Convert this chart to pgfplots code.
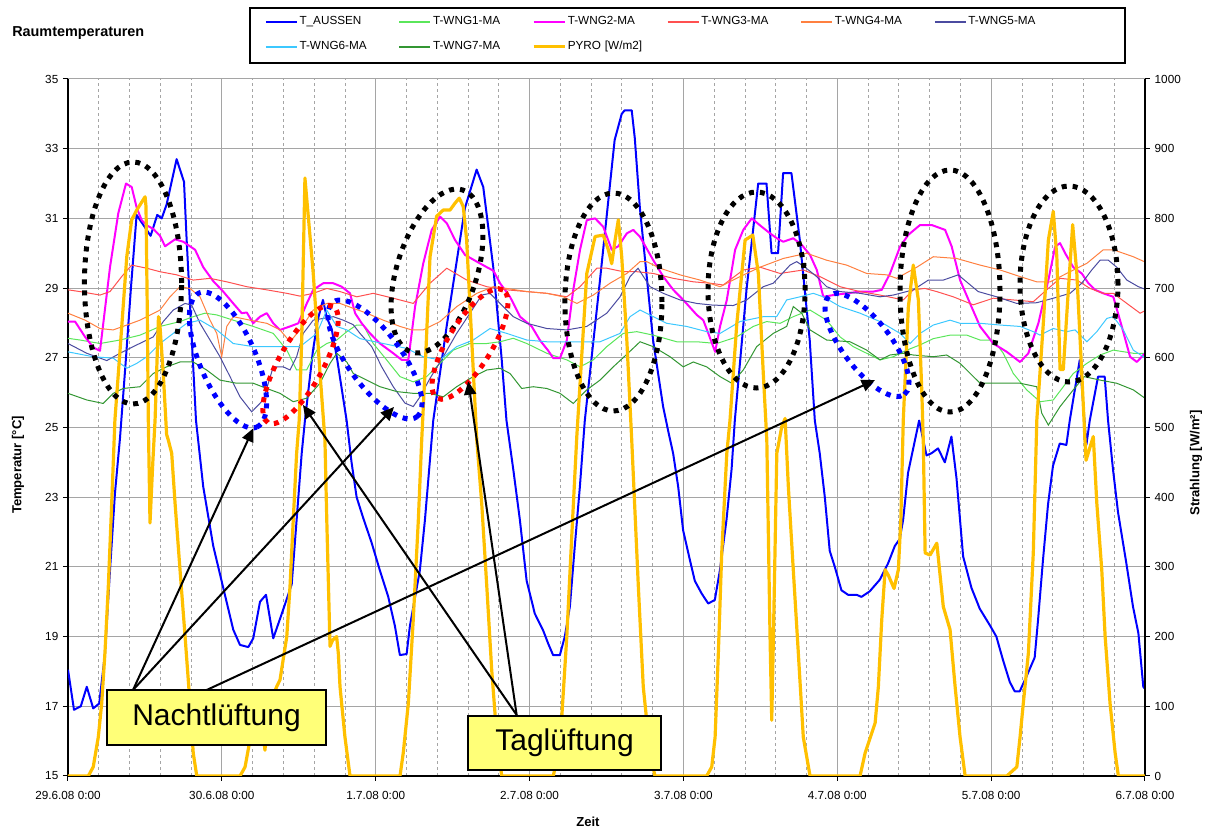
\documentclass[border=0pt]{standalone}
\usepackage{fontspec}
\setmainfont{Liberation Sans}
\usepackage{pgfplots}
\pgfplotsset{compat=1.18}
\usetikzlibrary{arrows.meta}
\definecolor{cAus}{RGB}{0,0,255}
\definecolor{cW1}{RGB}{90,230,90}
\definecolor{cW2}{RGB}{255,0,255}
\definecolor{cW3}{RGB}{255,80,80}
\definecolor{cW4}{RGB}{255,128,64}
\definecolor{cW5}{RGB}{75,75,160}
\definecolor{cW6}{RGB}{60,200,255}
\definecolor{cW7}{RGB}{50,150,50}
\definecolor{cPyro}{RGB}{255,192,0}
\definecolor{gridgray}{RGB}{165,165,165}
\definecolor{boxyellow}{RGB}{255,255,120}
\newcommand{\fs}{\fontsize{8.8}{10.5}\selectfont}
\pgfplotsset{
  basestyle/.style={
    at={(0pt,0pt)}, anchor=south west,
    scale only axis, width=807.75pt, height=522.75pt,
    xmin=0, xmax=7,
    tick align=outside,
    major tick length=3.75pt, minor tick length=0pt,
    tick style={black, line width=0.75pt},
    axis line style={black, line width=0.9pt},
    ticklabel style={font=\fs},
    /pgf/number format/assume math mode=true,
    /pgf/number format/1000 sep={},
    label style={font=\fontsize{9.8}{12}\selectfont\bfseries},
  }
}
\begin{document}
\begin{tikzpicture}
\begin{axis}[basestyle,
  ymin=15, ymax=35,
  axis x line*=bottom, axis y line*=left,
  xtick={0,1,2,3,4,5,6,7},
  xticklabels={29.6.08 0:00,30.6.08 0:00,1.7.08 0:00,2.7.08 0:00,3.7.08 0:00,4.7.08 0:00,5.7.08 0:00,6.7.08 0:00},
  xticklabel style={yshift=-4.5pt},
  minor x tick num=4,
  ytick={15,17,...,35},
  xmajorgrids, ymajorgrids, xminorgrids,
  major grid style={draw=gridgray, line width=0.75pt},
  minor grid style={draw=gridgray, line width=0.6pt, dash pattern=on 2.25pt off 2.25pt},
  xlabel={Zeit}, ylabel={Temperatur [°C]},
  xlabel style={at={(axis description cs:0.4828,-0.066)}, anchor=center},
  ylabel style={at={(axis description cs:-0.04643,0.4462)}, anchor=center},
]
\addplot[cAus, line width=1.5pt, line join=round] coordinates {
(0,18.05)(0.039,16.9)(0.083,17.0)(0.122,17.56)(0.164,16.94)(0.203,17.08)(0.240,18.5)(0.273,20.9)(0.305,23.1)(0.338,24.7)(0.377,27.0)(0.409,29.0)(0.446,31.1)(0.537,30.5)(0.580,31.1)(0.609,31.0)(0.641,31.4)(0.706,32.7)(0.754,32.05)(0.771,30.4)(0.832,25.2)(0.879,23.3)(0.944,21.6)(1.009,20.4)(1.074,19.2)(1.118,18.76)(1.172,18.7)(1.204,18.95)(1.248,20.0)(1.287,20.2)(1.334,18.95)(1.389,19.65)(1.431,20.2)(1.454,20.5)(1.486,22.35)(1.519,24.26)(1.540,25.2)(1.592,27.2)(1.624,28.1)(1.657,28.66)(1.683,28.15)(1.715,27.8)(1.748,27.0)(1.811,25.2)(1.843,24.0)(1.876,23.0)(1.919,22.4)(1.973,21.7)(2.027,20.9)(2.081,20.15)(2.125,19.3)(2.157,18.47)(2.201,18.5)(2.222,19.3)(2.287,20.9)(2.320,22.35)(2.374,25.2)(2.461,27.9)(2.580,31.3)(2.656,32.4)(2.699,31.9)(2.764,29.6)(2.818,27.0)(2.850,25.2)(2.894,23.8)(2.937,22.35)(2.981,20.6)(3.034,19.66)(3.088,19.18)(3.121,18.8)(3.153,18.47)(3.197,18.47)(3.229,19.0)(3.262,19.86)(3.294,21.6)(3.327,23.3)(3.359,25.2)(3.457,29.2)(3.553,33.25)(3.599,34.0)(3.618,34.1)(3.664,34.1)(3.684,33.3)(3.717,31.3)(3.803,27.5)(3.868,25.6)(3.901,24.9)(3.933,24.26)(3.966,23.3)(3.998,22.05)(4.042,21.2)(4.074,20.6)(4.118,20.24)(4.161,19.95)(4.204,20.05)(4.237,20.9)(4.280,22.35)(4.313,23.8)(4.334,25.2)(4.410,28.95)(4.486,32.0)(4.540,32.0)(4.573,30.0)(4.615,30.0)(4.648,32.3)(4.702,32.3)(4.756,30.4)(4.821,27.5)(4.854,25.2)(4.886,24.26)(4.919,23.0)(4.951,21.46)(4.984,21.0)(5.027,20.33)(5.070,20.2)(5.125,20.2)(5.157,20.14)(5.211,20.3)(5.276,20.63)(5.330,21.1)(5.374,21.6)(5.406,21.8)(5.428,22.35)(5.460,23.7)(5.532,25.2)(5.580,24.2)(5.612,24.26)(5.655,24.4)(5.699,24.0)(5.742,24.74)(5.775,23.54)(5.818,21.3)(5.872,20.4)(5.926,19.8)(5.991,19.33)(6.034,19.0)(6.077,18.33)(6.121,17.7)(6.153,17.43)(6.186,17.43)(6.229,17.85)(6.283,18.4)(6.305,19.48)(6.337,21.2)(6.370,22.8)(6.402,23.9)(6.446,24.54)(6.489,24.5)(6.511,25.2)(6.576,26.94)(6.619,24.5)(6.641,25.2)(6.695,26.46)(6.738,26.46)(6.760,25.2)(6.792,23.8)(6.825,22.56)(6.879,21.1)(6.922,19.86)(6.957,19.1)(6.989,17.56)(7.0,17.5)
};
\addplot[cW1, line width=0.75pt] coordinates {
(0,27.56)(0.078,27.51)(0.208,27.41)(0.338,27.51)(0.468,27.65)(0.598,27.9)(0.728,28.04)(0.814,28.18)(0.89,28.28)(0.967,28.23)(1.074,28.08)(1.204,27.9)(1.334,27.7)(1.422,27.22)(1.486,26.65)(1.551,26.65)(1.617,27.22)(1.682,27.41)(1.747,27.51)(1.812,27.75)(1.876,27.94)(1.919,27.94)(1.984,27.41)(2.071,26.94)(2.158,26.46)(2.244,26.31)(2.331,26.46)(2.418,26.84)(2.504,27.22)(2.613,27.41)(2.722,27.41)(2.808,27.46)(2.894,27.56)(2.982,27.41)(3.112,27.13)(3.242,26.94)(3.328,26.74)(3.414,26.94)(3.502,27.32)(3.609,27.7)(3.697,27.75)(3.804,27.65)(3.956,27.46)(4.087,27.46)(4.217,27.41)(4.347,27.6)(4.454,27.9)(4.541,28.04)(4.628,27.99)(4.714,28.18)(4.823,28.37)(4.931,28.08)(5.018,27.6)(5.104,27.32)(5.191,27.13)(5.278,26.94)(5.364,27.03)(5.452,27.22)(5.538,27.37)(5.624,27.55)(5.733,27.65)(5.842,27.65)(5.928,27.51)(6.014,27.51)(6.079,27.13)(6.144,26.55)(6.231,26.08)(6.318,25.74)(6.404,25.79)(6.469,26.17)(6.534,26.55)(6.622,26.84)(6.708,27.08)(6.794,27.22)(6.924,27.13)(7.0,27.13)
};
\addplot[cW2, line width=1.5pt, line join=round] coordinates {
(0,28.04)(0.046,28.04)(0.111,27.6)(0.164,27.3)(0.208,27.2)(0.273,29.6)(0.327,31.15)(0.377,32.0)(0.414,31.9)(0.447,31.3)(0.479,30.95)(0.512,30.8)(0.554,30.7)(0.598,30.5)(0.631,30.2)(0.696,30.4)(0.749,30.33)(0.826,30.1)(0.879,29.6)(0.944,29.2)(1.009,28.9)(1.074,28.56)(1.129,28.28)(1.162,28.3)(1.204,27.99)(1.248,28.18)(1.292,28.28)(1.334,27.99)(1.378,27.8)(1.443,27.9)(1.497,27.99)(1.552,28.56)(1.594,28.95)(1.659,29.14)(1.724,29.14)(1.779,29.04)(1.833,28.85)(1.866,28.28)(1.909,27.99)(1.963,27.7)(2.028,27.41)(2.114,27.13)(2.169,26.94)(2.212,26.94)(2.256,28.47)(2.309,29.71)(2.364,30.67)(2.418,31.05)(2.462,30.86)(2.516,30.38)(2.581,29.95)(2.657,29.76)(2.722,29.6)(2.765,29.5)(2.808,29.14)(2.873,28.75)(2.938,28.18)(3.014,27.9)(3.068,27.5)(3.122,27.2)(3.154,26.99)(3.198,26.99)(3.242,27.5)(3.284,28.95)(3.328,30.1)(3.372,30.95)(3.426,31.0)(3.479,30.76)(3.534,30.1)(3.577,30.2)(3.632,30.57)(3.674,30.67)(3.718,30.47)(3.804,29.8)(3.869,29.33)(3.934,28.95)(3.999,28.66)(4.087,28.23)(4.129,28.08)(4.162,27.7)(4.206,27.17)(4.238,27.9)(4.282,28.66)(4.336,30.1)(4.389,30.67)(4.444,31.0)(4.498,30.8)(4.563,30.57)(4.607,30.43)(4.649,30.33)(4.714,30.43)(4.769,30.24)(4.823,29.95)(4.867,29.52)(4.909,28.75)(4.974,28.8)(5.062,28.85)(5.148,28.9)(5.234,28.9)(5.289,28.95)(5.343,29.42)(5.408,30.19)(5.462,30.53)(5.538,30.81)(5.614,30.81)(5.701,30.67)(5.744,30.19)(5.798,29.23)(5.863,28.56)(5.928,27.9)(6.014,27.41)(6.102,27.17)(6.188,26.88)(6.242,27.13)(6.307,27.99)(6.372,29.23)(6.416,30.19)(6.448,30.29)(6.481,30.0)(6.534,29.6)(6.589,29.42)(6.632,29.14)(6.676,28.95)(6.729,28.85)(6.794,28.75)(6.849,27.9)(6.903,27.03)(6.947,26.88)(7.0,27.13)
};
\addplot[cW3, line width=0.75pt] coordinates {
(0,28.95)(0.078,28.9)(0.208,28.8)(0.273,28.9)(0.349,29.33)(0.414,29.66)(0.512,29.57)(0.598,29.47)(0.707,29.38)(0.814,29.23)(0.923,29.28)(1.032,29.18)(1.162,29.04)(1.292,28.95)(1.422,28.85)(1.508,28.77)(1.594,28.85)(1.682,28.99)(1.768,28.9)(1.877,28.75)(1.984,28.85)(2.114,28.71)(2.244,28.56)(2.353,29.14)(2.462,29.57)(2.592,29.23)(2.722,29.04)(2.852,28.95)(2.982,28.9)(3.112,28.85)(3.242,28.75)(3.328,29.04)(3.437,29.57)(3.502,29.57)(3.609,29.47)(3.697,29.47)(3.804,29.42)(3.934,29.28)(4.065,29.18)(4.173,29.14)(4.259,29.09)(4.389,29.52)(4.498,29.6)(4.628,29.42)(4.779,29.52)(4.888,29.33)(5.018,29.04)(5.148,28.9)(5.278,28.8)(5.429,28.66)(5.494,28.95)(5.570,28.99)(5.646,28.9)(5.754,28.75)(5.884,28.52)(6.014,28.71)(6.144,28.66)(6.274,28.61)(6.361,28.95)(6.448,29.28)(6.557,29.23)(6.643,28.99)(6.729,28.85)(6.794,28.85)(6.882,28.56)(6.968,28.28)(7.0,28.35)
};
\addplot[cW4, line width=0.75pt] coordinates {
(0,28.28)(0.111,28.08)(0.208,27.84)(0.294,27.8)(0.382,27.94)(0.468,28.08)(0.598,28.37)(0.663,28.75)(0.728,29.04)(0.793,28.99)(0.858,28.75)(0.923,28.08)(0.967,27.7)(0.999,27.03)(1.032,27.9)(1.074,28.18)(1.183,28.08)(1.292,27.99)(1.378,27.8)(1.443,27.46)(1.508,27.8)(1.594,28.37)(1.682,28.56)(1.768,28.56)(1.854,28.42)(1.942,28.28)(2.049,28.08)(2.158,27.9)(2.234,27.8)(2.309,27.8)(2.418,28.04)(2.527,28.47)(2.657,28.85)(2.764,29.04)(2.852,28.99)(2.982,28.9)(3.112,28.85)(3.219,28.75)(3.307,28.56)(3.414,28.8)(3.523,29.14)(3.632,29.42)(3.718,29.76)(3.762,29.76)(3.848,29.57)(3.978,29.38)(4.108,29.23)(4.238,29.04)(4.368,29.33)(4.498,29.6)(4.649,29.85)(4.801,30.0)(4.931,29.8)(5.061,29.66)(5.191,29.42)(5.322,29.38)(5.386,29.28)(5.517,29.6)(5.624,29.9)(5.776,29.85)(5.928,29.66)(6.058,29.52)(6.188,29.33)(6.296,29.18)(6.383,29.18)(6.491,29.42)(6.622,29.71)(6.729,30.1)(6.794,30.1)(6.924,29.9)(7.0,29.75)
};
\addplot[cW5, line width=0.75pt] coordinates {
(0,27.41)(0.122,27.13)(0.252,26.92)(0.338,27.13)(0.447,27.37)(0.554,27.6)(0.619,28.04)(0.684,28.37)(0.761,28.56)(0.804,28.51)(0.858,27.99)(0.923,27.51)(0.988,27.03)(1.053,26.46)(1.118,25.88)(1.194,25.45)(1.269,25.79)(1.334,26.74)(1.399,26.74)(1.443,26.65)(1.486,27.03)(1.529,27.7)(1.594,28.08)(1.659,28.13)(1.724,28.18)(1.789,28.08)(1.854,27.95)(1.898,27.7)(1.974,27.32)(2.039,26.74)(2.114,26.17)(2.19,25.7)(2.244,25.6)(2.288,25.88)(2.353,26.41)(2.439,27.03)(2.526,27.7)(2.613,28.28)(2.689,28.8)(2.743,28.85)(2.808,28.56)(2.894,28.18)(2.982,27.99)(3.112,27.84)(3.242,27.8)(3.372,27.9)(3.502,28.28)(3.588,28.75)(3.653,29.33)(3.705,29.57)(3.783,29.04)(3.869,28.85)(3.978,28.66)(4.087,28.56)(4.194,28.51)(4.324,28.5)(4.411,28.66)(4.519,29.04)(4.584,29.14)(4.693,29.66)(4.736,29.76)(4.79,29.6)(4.866,29.33)(4.931,29.04)(5.018,28.9)(5.148,28.85)(5.278,28.75)(5.364,28.8)(5.494,28.95)(5.592,29.23)(5.689,29.23)(5.786,29.38)(5.916,28.9)(6.036,28.75)(6.166,28.56)(6.296,28.58)(6.404,28.71)(6.513,28.85)(6.589,29.14)(6.654,29.52)(6.708,29.8)(6.762,29.8)(6.816,29.6)(6.882,29.23)(6.957,29.04)(7.0,28.97)
};
\addplot[cW6, line width=0.75pt] coordinates {
(0,27.17)(0.164,27.03)(0.294,26.99)(0.382,26.7)(0.447,26.84)(0.512,27.03)(0.598,27.41)(0.684,27.7)(0.772,27.99)(0.858,28.08)(0.967,27.8)(1.074,27.41)(1.204,27.32)(1.334,27.32)(1.508,27.32)(1.617,27.7)(1.682,28.37)(1.747,27.9)(1.812,27.8)(1.898,27.55)(2.049,27.41)(2.201,27.27)(2.309,27.03)(2.418,26.94)(2.526,27.32)(2.634,27.51)(2.743,27.84)(2.852,27.7)(2.982,27.51)(3.112,27.46)(3.284,27.46)(3.458,27.46)(3.588,27.7)(3.653,28.18)(3.718,28.37)(3.804,28.18)(3.891,27.99)(4.021,27.9)(4.152,27.75)(4.238,27.7)(4.368,28.04)(4.519,28.18)(4.606,28.18)(4.671,28.66)(4.758,28.75)(4.844,28.85)(4.909,28.75)(5.018,28.47)(5.148,28.28)(5.278,28.04)(5.408,27.7)(5.473,27.41)(5.538,27.7)(5.624,27.94)(5.733,28.08)(5.798,27.99)(5.928,27.99)(6.058,27.94)(6.188,27.9)(6.274,27.75)(6.318,27.65)(6.404,27.84)(6.491,27.75)(6.545,27.8)(6.622,27.46)(6.687,27.75)(6.752,28.13)(6.794,28.18)(6.859,27.8)(6.924,27.22)(7.0,27.0)
};
\addplot[cW7, line width=0.75pt] coordinates {
(0,25.98)(0.122,25.79)(0.229,25.69)(0.294,25.98)(0.359,26.12)(0.468,26.17)(0.554,26.55)(0.641,26.74)(0.728,26.88)(0.814,26.88)(0.901,26.65)(0.988,26.36)(1.096,26.27)(1.204,26.27)(1.292,26.12)(1.378,25.98)(1.464,25.74)(1.551,25.84)(1.638,26.27)(1.703,26.84)(1.747,27.13)(1.812,26.88)(1.854,26.55)(1.942,26.36)(2.028,26.17)(2.137,26.03)(2.244,25.98)(2.353,25.98)(2.439,25.88)(2.526,26.17)(2.634,26.46)(2.722,26.65)(2.808,26.7)(2.873,26.55)(2.949,26.12)(3.024,26.17)(3.112,26.12)(3.198,25.98)(3.284,25.69)(3.372,26.08)(3.458,26.36)(3.544,26.74)(3.632,27.1)(3.718,27.46)(3.804,27.32)(3.913,27.03)(3.999,26.74)(4.064,26.88)(4.151,26.74)(4.238,26.46)(4.314,26.27)(4.389,26.65)(4.476,27.32)(4.584,27.7)(4.671,27.9)(4.714,28.47)(4.769,28.28)(4.823,27.8)(4.931,27.51)(5.083,27.46)(5.191,27.22)(5.278,26.94)(5.343,27.08)(5.429,27.13)(5.494,27.08)(5.624,27.03)(5.711,27.08)(5.798,26.84)(5.928,26.27)(6.058,26.27)(6.188,26.27)(6.296,26.17)(6.329,25.41)(6.372,25.07)(6.448,25.6)(6.534,26.08)(6.605,26.46)(6.708,26.36)(6.816,26.27)(6.924,26.08)(7.0,25.84)
};
\end{axis}
\begin{axis}[basestyle,
  ymin=0, ymax=1000,
  axis x line=none, axis y line*=right,
  ytick={0,100,...,1000},
  ylabel={Strahlung [W/m²]},
  ylabel style={at={(axis description cs:1.0474,0.449)}, anchor=center},
  legend image code/.code={\draw[#1] (0pt,0pt) -- (23.25pt,0pt);},
  legend columns=6,
  legend cell align=left,
  legend style={at={(axis description cs:0.1826,1.09096)}, anchor=north west,
    draw=none, fill=none, font=\fs, inner sep=0pt, row sep=10.25pt,
    column sep=0pt,
    nodes={inner xsep=1.2pt, inner ysep=0pt, text height=6.5pt, text depth=2pt, text width=73pt}},
]
\addlegendimage{color=cAus, line width=1.5pt}\addlegendentry{T\_AUSSEN}
\addlegendimage{color=cW1, line width=1.5pt}\addlegendentry{T-WNG1-MA}
\addlegendimage{color=cW2, line width=1.5pt}\addlegendentry{T-WNG2-MA}
\addlegendimage{color=cW3, line width=1.5pt}\addlegendentry{T-WNG3-MA}
\addlegendimage{color=cW4, line width=1.5pt}\addlegendentry{T-WNG4-MA}
\addlegendimage{color=cW5, line width=1.5pt}\addlegendentry{T-WNG5-MA}
\addlegendimage{color=cW6, line width=1.5pt}\addlegendentry{T-WNG6-MA}
\addlegendimage{color=cW7, line width=1.5pt}\addlegendentry{T-WNG7-MA}
\addplot[cPyro, line width=2.4pt, line join=round] coordinates {
(0,0)(0.132,0)(0.164,13)(0.197,56)(0.219,104)(0.24,176)(0.262,272)(0.284,391)(0.305,511)(0.338,610)(0.382,745)(0.414,798)(0.447,812)(0.501,831)(0.507,817)(0.515,673)(0.522,511)(0.533,363)(0.551,449)(0.566,511)(0.588,659)(0.598,645)(0.619,578)(0.641,490)(0.652,482)(0.674,463)(0.696,391)(0.728,296)(0.761,200)(0.793,104)(0.814,33)(0.837,0)(1.118,0)(1.151,13)(1.183,52)(1.204,104)(1.235,95)(1.261,80)(1.28,37)(1.306,100)(1.356,128)(1.378,138)(1.422,200)(1.443,272)(1.464,367)(1.486,463)(1.503,511)(1.519,626)(1.540,858)(1.594,721)(1.638,578)(1.670,482)(1.682,367)(1.703,186)(1.72,195)(1.746,200)(1.757,176)(1.768,128)(1.80,56)(1.833,0)(2.158,0)(2.179,33)(2.212,104)(2.244,224)(2.277,367)(2.299,482)(2.32,578)(2.353,745)(2.396,803)(2.439,812)(2.483,812)(2.516,822)(2.543,829)(2.569,817)(2.591,769)(2.624,626)(2.657,482)(2.689,391)(2.722,272)(2.754,152)(2.787,56)(2.819,0)(3.154,0)(3.187,33)(3.208,80)(3.242,200)(3.274,343)(3.307,487)(3.372,721)(3.426,774)(3.479,776)(3.512,755)(3.534,735)(3.556,769)(3.577,798)(3.599,745)(3.632,626)(3.664,482)(3.707,272)(3.739,128)(3.783,33)(3.815,0)(4.151,0)(4.184,13)(4.206,56)(4.227,176)(4.249,320)(4.282,463)(4.303,511)(4.347,649)(4.401,769)(4.451,776)(4.487,721)(4.519,578)(4.542,482)(4.563,200)(4.574,80)(4.585,200)(4.607,463)(4.639,501)(4.661,513)(4.682,415)(4.714,296)(4.747,176)(4.779,56)(4.823,0)(5.148,0)(5.181,33)(5.246,76)(5.267,128)(5.289,224)(5.311,296)(5.332,288)(5.369,269)(5.397,296)(5.413,367)(5.429,511)(5.462,673)(5.494,733)(5.527,683)(5.549,554)(5.559,482)(5.571,320)(5.603,317)(5.647,334)(5.689,243)(5.733,210)(5.766,128)(5.798,56)(5.831,0)(6.102,0)(6.167,13)(6.188,56)(6.209,104)(6.242,176)(6.274,320)(6.297,511)(6.339,649)(6.372,769)(6.404,810)(6.427,745)(6.448,583)(6.469,583)(6.502,698)(6.53,791)(6.557,721)(6.589,578)(6.61,482)(6.617,453)(6.643,472)(6.664,487)(6.687,391)(6.719,296)(6.741,200)(6.773,104)(6.806,33)(6.827,0)(7.0,0)
};
\addlegendentry{PYRO [W/m2]}
\end{axis}
% legend frame
\draw[black, line width=0.9pt] (136.5pt,534.75pt) rectangle (792.75pt,576pt);
% title
\node[anchor=west, inner sep=0pt, font=\fontsize{10.8}{13}\selectfont\bfseries] at (-42pt,557.5pt) {Raumtemperaturen};
% ellipses
\tikzset{kdot/.style={line width=3.75pt, dash pattern=on 3.75pt off 4.5pt}}
\draw[kdot, black] (48.75pt,369.75pt) ellipse [x radius=36.4pt, y radius=90.75pt];
\draw[kdot, black, rotate around={-17.5:(276.75pt,378.75pt)}] (276.75pt,378.75pt) ellipse [x radius=30pt, y radius=63.75pt];
\draw[kdot, black] (409.1pt,355.5pt) ellipse [x radius=36.4pt, y radius=81.75pt];
\draw[kdot, black] (516.4pt,364.5pt) ellipse [x radius=36.4pt, y radius=73.5pt];
\draw[kdot, black] (661.5pt,363.75pt) ellipse [x radius=37.5pt, y radius=90.75pt];
\draw[kdot, black] (750.75pt,369pt) ellipse [x radius=36.75pt, y radius=73.5pt];
\draw[kdot, blue, rotate around={-66.75:(120pt,312pt)}] (120pt,312pt) ellipse [x radius=54.75pt, y radius=21pt];
\draw[kdot, blue, rotate around={-53.9:(230.25pt,312.4pt)}] (230.25pt,312.4pt) ellipse [x radius=53.25pt, y radius=20pt];
\draw[kdot, blue, rotate around={-52.9:(599.25pt,323.25pt)}] (599.25pt,323.25pt) ellipse [x radius=46.5pt, y radius=18pt];
\draw[kdot, red, rotate around={60.9:(174.4pt,308.6pt)}] (174.4pt,308.6pt) ellipse [x radius=50pt, y radius=16.5pt];
\draw[kdot, red, rotate around={58.6:(301.5pt,324pt)}] (301.5pt,324pt) ellipse [x radius=47.5pt, y radius=16.5pt];
% arrows
\tikzset{arr/.style={black, line width=1.5pt, -{Triangle[length=10pt,width=9pt]}}}
\draw[arr] (48.75pt,64.5pt) -- (139pt,260.8pt);
\draw[arr] (48.75pt,64.5pt) -- (244.5pt,276.75pt);
\draw[arr] (104pt,64.5pt) -- (605.25pt,297pt);
\draw[arr] (336.5pt,45.75pt) -- (176.25pt,278.25pt);
\draw[arr] (336.5pt,45.75pt) -- (300.2pt,296pt);
% boxes
\draw[black, line width=1.5pt, fill=boxyellow] (29.25pt,23.25pt) rectangle (193.5pt,64.5pt);
\node[font=\fontsize{22.5}{27}\selectfont] at (111.4pt,43.9pt) {Nachtlüftung};
\draw[black, line width=1.5pt, fill=boxyellow] (300pt,4.5pt) rectangle (444.75pt,45pt);
\node[font=\fontsize{22.5}{27}\selectfont] at (372.4pt,24.75pt) {Taglüftung};
\pgfresetboundingbox
\path[use as bounding box] (-51pt,-42pt) rectangle (855pt,582pt);
\end{tikzpicture}
\end{document}
